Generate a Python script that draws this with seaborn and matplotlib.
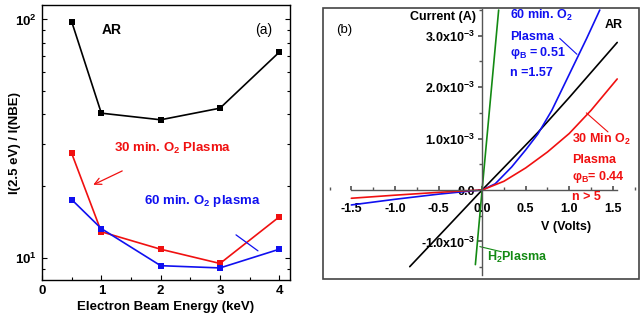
import numpy as np
import pandas as pd
import matplotlib
matplotlib.use("Agg")
import matplotlib.pyplot as plt
from matplotlib.patches import Rectangle
from matplotlib.ticker import MultipleLocator, LogLocator, NullFormatter
import seaborn as sns

# ================= DATA =================
# (a) CL intensity ratio vs beam energy
energy_kev = [0.5, 1, 2, 3, 4]
ratio_ar = [98, 40.5, 38, 42.5, 73]
ratio_o2_30 = [27.5, 12.9, 10.9, 9.5, 14.9]
ratio_o2_60 = [17.6, 13.3, 9.3, 9.1, 10.9]

# (b) I-V curves (current in mA here, scaled to A when plotted)
v_ar = [-0.83, -0.4, 0.0, 0.64, 1.0, 1.55]
i_ar = [-1.49, -0.72, 0.0, 1.12, 1.80, 2.87]
v_o2_60 = [-1.5, -1.0, -0.5, -0.2, 0.0, 0.15, 0.34, 0.5, 0.64, 0.8, 1.0, 1.1, 1.2, 1.35]
i_o2_60 = [-0.29, -0.18, -0.08, -0.03, 0.0, 0.12, 0.45, 0.78, 1.09, 1.55, 2.25, 2.6, 2.95, 3.5]
v_o2_30 = [-1.5, -1.0, -0.5, -0.2, 0.0, 0.25, 0.5, 0.75, 1.0, 1.25, 1.55]
i_o2_30 = [-0.16, -0.10, -0.045, -0.015, 0.0, 0.17, 0.43, 0.74, 1.10, 1.55, 2.16]
v_h2 = [-0.077, 0.0, 0.19]
i_h2 = [-1.45, 0.0, 3.5]

RED = "#f01010"
BLUE = "#1010f0"
GREEN = "#138a13"

sns.set_theme(style="ticks")
plt.rcParams["font.family"] = ["Liberation Sans", "DejaVu Sans"]
plt.rcParams["font.weight"] = "bold"
plt.rcParams["mathtext.fontset"] = "custom"
plt.rcParams["mathtext.rm"] = "Liberation Sans:bold"
plt.rcParams["mathtext.bf"] = "Liberation Sans:bold"
plt.rcParams["mathtext.default"] = "bf"
for key in ("text.color", "axes.labelcolor", "xtick.color", "ytick.color"):
    plt.rcParams[key] = "black"

fig = plt.figure(figsize=(6.41, 3.2), dpi=100)

# ================= (a) =================
ax1 = fig.add_axes([42 / 641, 40 / 320, 248 / 641, 275 / 320])
df_a = pd.DataFrame({
    "energy": energy_kev * 3,
    "ratio": ratio_ar + ratio_o2_30 + ratio_o2_60,
    "sample": ["AR"] * 5 + ["30"] * 5 + ["60"] * 5,
})
sns.lineplot(data=df_a, x="energy", y="ratio", hue="sample",
             palette={"AR": "black", "30": RED, "60": BLUE},
             marker="s", markersize=4.5, markeredgewidth=0, linewidth=1.2,
             legend=False, ax=ax1)
ax1.set_yscale("log")
ax1.set_xlim(0, 4.18)
ax1.set_ylim(8.1, 115)
ax1.set_xticks([0, 1, 2, 3, 4])
ax1.set_xticklabels(["0", "1", "2", "3", "4"], fontweight="bold")
ax1.xaxis.set_minor_locator(MultipleLocator(0.5))
ax1.set_yticks([10, 100])
ax1.set_yticklabels(["10$^1$", "10$^2$"], fontweight="bold")
ax1.yaxis.set_minor_locator(LogLocator(base=10, subs=np.arange(2, 10)))
ax1.yaxis.set_minor_formatter(NullFormatter())
ax1.tick_params(which="both", direction="in", right=True, labelsize=9.5, width=0.8)
ax1.tick_params(which="major", length=3.5)
ax1.tick_params(which="minor", length=2)
for sp in ax1.spines.values():
    sp.set_linewidth(1.0)
    sp.set_color("black")
ax1.set_xlabel("Electron Beam Energy (keV)", fontsize=9.5, fontweight="bold", labelpad=3)
ax1.set_ylabel("I(2.5 eV) / I(NBE)", fontsize=9.5, fontweight="bold")
ax1.yaxis.set_label_coords(-0.085, 0.5)

ax1.text(1.18, 90, "AR", fontsize=10, fontweight="bold", ha="center", va="center")
ax1.text(3.74, 90, "(a)", fontsize=10, fontweight="normal", ha="center", va="center")
ax1.text(2.2, 28.9, "30 min. O$_2$ Plasma", color=RED, fontsize=9.5,
         fontweight="bold", ha="center", va="center")
ax1.text(2.7, 17.4, "60 min. O$_2$ plasma", color=BLUE, fontsize=9.5,
         fontweight="bold", ha="center", va="center")
ax1.annotate("", xy=(0.864, 20.3), xytext=(1.352, 23.2),
             arrowprops=dict(arrowstyle="->", color=RED, lw=0.9, shrinkA=0, shrinkB=0))
ax1.plot([3.27, 3.64], [12.52, 10.73], color=BLUE, lw=0.9)

# ================= (b) =================
ax2 = fig.add_axes([323 / 641, 41 / 320, 316 / 641, 271 / 320])
curves = [(v_ar, i_ar, "black"), (v_o2_60, i_o2_60, BLUE),
          (v_o2_30, i_o2_30, RED), (v_h2, i_h2, GREEN)]
for v, i, c in curves:
    sns.lineplot(x=v, y=np.array(i) * 1e-3, color=c, linewidth=1.2,
                 sort=False, estimator=None, ax=ax2)
ax2.set_xlim(-1.825, 1.80)
ax2.set_ylim(-1.73e-3, 3.54e-3)
ax2.spines["top"].set_visible(False)
ax2.spines["right"].set_visible(False)
ax2.spines["left"].set_position(("data", 0))
ax2.spines["bottom"].set_position(("data", 0))
ax2.spines["bottom"].set_bounds(-1.5, 1.55)
ax2.spines["left"].set_bounds(-1.65e-3, 3.52e-3)
for k in ("left", "bottom"):
    ax2.spines[k].set_color("#555555")
    ax2.spines[k].set_linewidth(1.0)
ax2.set_xticks([-1.5, -1.0, -0.5, 0.0, 0.5, 1.0, 1.5])
ax2.set_xticklabels(["-1.5", "-1.0", "-0.5", "0.0", "0.5", "1.0", "1.5"], fontweight="bold")
ax2.xaxis.set_minor_locator(MultipleLocator(0.25))
ax2.set_yticks([-1e-3, 0, 1e-3, 2e-3, 3e-3])
ax2.set_yticklabels(["-1.0x10$^{-3}$", "0.0", "1.0x10$^{-3}$", "2.0x10$^{-3}$", "3.0x10$^{-3}$"],
                    fontweight="bold")
ax2.yaxis.set_minor_locator(MultipleLocator(0.5e-3))
ax2.tick_params(axis="x", which="both", direction="in", labelsize=9, pad=9, color="#555555")
ax2.tick_params(axis="y", which="both", direction="out", labelsize=9, pad=2, color="#555555")
ax2.tick_params(which="major", length=3)
ax2.tick_params(which="minor", length=2)
ax2.set_xlabel("")
ax2.set_ylabel("")
ax2.add_patch(Rectangle((0, 0), 1, 1, transform=ax2.transAxes, fill=False,
                        edgecolor="#444444", lw=1.2, clip_on=False))

ax2.text(-1.584, 3.11e-3, "(b)", fontsize=9.5, fontweight="normal", ha="center", va="center")
ax2.text(-0.07, 3.37e-3, "Current (A)", fontsize=9, fontweight="bold", ha="right", va="center")
ax2.text(0.967, -0.714e-3, "V (Volts)", fontsize=9, fontweight="bold", ha="center", va="center")
ax2.text(1.51, 3.21e-3, "AR", fontsize=9, fontweight="bold", ha="center", va="center")

blue_lines = ["60 min. O$_2$", "Plasma", "φ$_B$ = 0.51", "n =1.57"]
for txt, y in zip(blue_lines, [3.39e-3, 2.97e-3, 2.66e-3, 2.28e-3]):
    ax2.text(0.317, y, txt, color=BLUE, fontsize=9, fontweight="bold", ha="left", va="center")
red_lines = ["30 Min O$_2$", "Plasma", "φ$_B$= 0.44", "n > 5"]
for txt, y in zip(red_lines, [0.986e-3, 0.584e-3, 0.259e-3, -0.13e-3]):
    ax2.text(1.035, y, txt, color=RED, fontsize=9, fontweight="bold", ha="left", va="center")
ax2.text(0.062, -1.32e-3, "H$_2$Plasma", color=GREEN, fontsize=9, fontweight="bold",
         ha="left", va="center")

ax2.plot([0.89, 1.088], [2.95e-3, 2.64e-3], color=BLUE, lw=0.8)
ax2.plot([1.196, 1.444], [1.50e-3, 1.13e-3], color=RED, lw=0.8)
ax2.plot([-0.026, 0.222], [-1.10e-3, -1.20e-3], color=GREEN, lw=0.8)

fig.savefig("out.png", dpi=100)
